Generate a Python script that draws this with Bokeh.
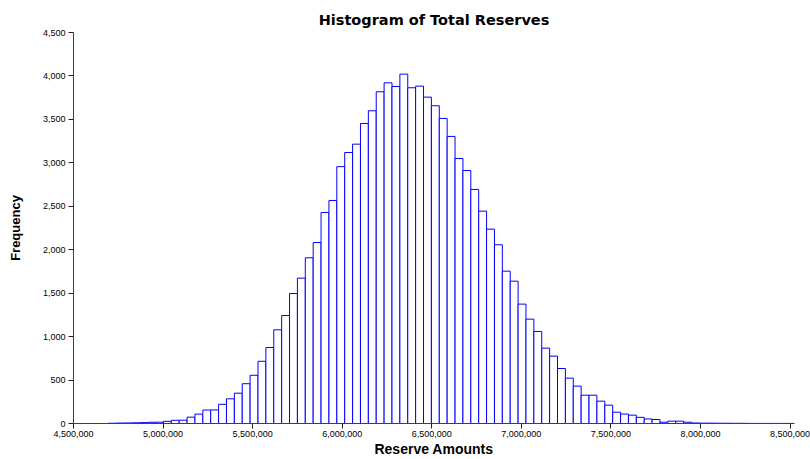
from bokeh.plotting import figure
from bokeh.models import ColumnDataSource, Range1d, FixedTicker, NumeralTickFormatter
from bokeh.embed import file_html
from bokeh.resources import INLINE

# ---- data ----
BIN_START = 4694000
BIN_WIDTH = 44000
counts = [3, 5, 6, 8, 10, 14, 15, 25, 37, 38,
          73, 108, 155, 156, 221, 284, 349, 458, 555, 716,
          875, 1078, 1243, 1496, 1673, 1907, 2083, 2429, 2567, 2956,
          3119, 3215, 3453, 3599, 3818, 3921, 3879, 4021, 3864, 3883,
          3756, 3657, 3511, 3304, 3050, 2912, 2694, 2444, 2237, 2057,
          1753, 1638, 1374, 1201, 1059, 867, 775, 633, 522, 430,
          326, 326, 257, 211, 130, 109, 96, 71, 52, 46,
          15, 27, 27, 15, 6, 4, 4, 3, 3, 2,
          2, 1, 1, 1, 1, 1, 1]
x_ticks = [4500000, 5000000, 5500000, 6000000, 6500000, 7000000, 7500000, 8000000, 8500000]
y_ticks = [0, 500, 1000, 1500, 2000, 2500, 3000, 3500, 4000, 4500]
title_text = "Histogram of Total Reserves"
x_label = "Reserve Amounts"
y_label = "Frequency"

lefts = [BIN_START + i * BIN_WIDTH for i in range(len(counts))]
rights = [l + BIN_WIDTH for l in lefts]
src = ColumnDataSource(dict(left=lefts, right=rights, top=counts, bottom=[0] * len(counts)))

FONT = "Liberation Sans"

p = figure(width=810, height=459, output_backend="svg", toolbar_location=None,
           x_range=Range1d(4500000, 8525000), y_range=Range1d(0, 4500),
           min_border_left=73, min_border_right=16, min_border_top=32, min_border_bottom=36,
           title=title_text)
p.outline_line_color = None
p.grid.visible = False
p.background_fill_color = "white"
p.border_fill_color = "white"

p.quad(left="left", right="right", top="top", bottom="bottom", source=src,
       fill_color="white", line_color="#0000FF", line_width=1)

p.title.align = "center"
p.title.text_font = "DejaVu Sans"
p.title.text_font_size = "14.5px"
p.title.text_font_style = "bold"
p.title.text_color = "black"
p.title.standoff = 9

for ax in (p.xaxis[0], p.yaxis[0]):
    ax.axis_line_color = "#404040"
    ax.axis_line_width = 1
    ax.major_tick_line_color = "#202020"
    ax.major_tick_out = 5
    ax.major_tick_in = 0
    ax.minor_tick_line_color = None
    ax.major_label_text_font = FONT
    ax.major_label_text_font_size = "9px"
    ax.major_label_text_color = "black"
    ax.axis_label_text_font = FONT
    ax.axis_label_text_font_size = "13px"
    ax.axis_label_text_font_style = "bold"
    ax.axis_label_text_color = "black"
    ax.formatter = NumeralTickFormatter(format="0,0")

p.xaxis[0].ticker = FixedTicker(ticks=x_ticks)
p.yaxis[0].ticker = FixedTicker(ticks=y_ticks)
p.xaxis[0].axis_label = x_label
p.xaxis[0].axis_label_text_font_size = "14px"
p.yaxis[0].axis_label = y_label
p.xaxis[0].major_label_standoff = 2
p.xaxis[0].axis_label_standoff = 1
p.yaxis[0].major_label_standoff = 3
p.yaxis[0].axis_label_standoff = 17

open("out.html", "w").write(file_html(p, INLINE))
